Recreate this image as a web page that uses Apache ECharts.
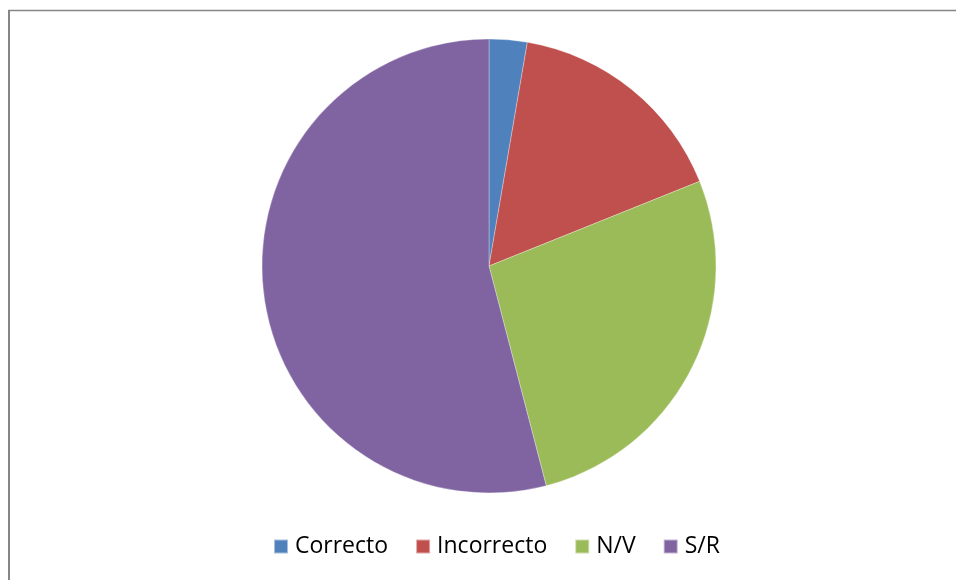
<!DOCTYPE html>
<html>
<head>
<meta charset="utf-8">
<script src="https://cdn.jsdelivr.net/npm/echarts@6/dist/echarts.min.js"></script>
<style>
  html, body { margin: 0; padding: 0; background: #fff; }
  #chart { width: 956px; height: 580px; }
</style>
</head>
<body>
<div id="chart"></div>
<script>
// categories and values
const categories = ['Correcto', 'Incorrecto', 'N/V', 'S/R'];
const values = [1, 6, 10, 20];
const colors = ['#4f81bd', '#c0504d', '#9bbb59', '#8064a2'];

const chart = echarts.init(document.getElementById('chart'));

chart.setOption({
  animation: false,
  color: colors,
  legend: {
    bottom: 17,
    left: 268,
    icon: 'rect',
    itemWidth: 14,
    itemHeight: 14,
    itemGap: 27,
    textStyle: { fontFamily: 'Open Sans', fontSize: 23, color: '#000', padding: [0, 0, 0, 2] },
    data: categories
  },
  graphic: [
    { type: 'line', shape: { x1: 9, y1: 10, x2: 9, y2: 580 }, style: { stroke: '#868686', lineWidth: 2 } },
    { type: 'line', shape: { x1: 8, y1: 10.5, x2: 956, y2: 10.5 }, style: { stroke: '#868686', lineWidth: 1.5 } }
  ],
  series: [
    {
      type: 'pie',
      center: [489, 266],
      radius: 227,
      startAngle: 90,
      clockwise: true,
      label: { show: false },
      labelLine: { show: false },
      itemStyle: { borderColor: 'rgba(255,255,255,0.5)', borderWidth: 0.6 },
      data: categories.map((name, i) => ({ name: name, value: values[i] }))
    }
  ]
});
</script>
</body>
</html>
